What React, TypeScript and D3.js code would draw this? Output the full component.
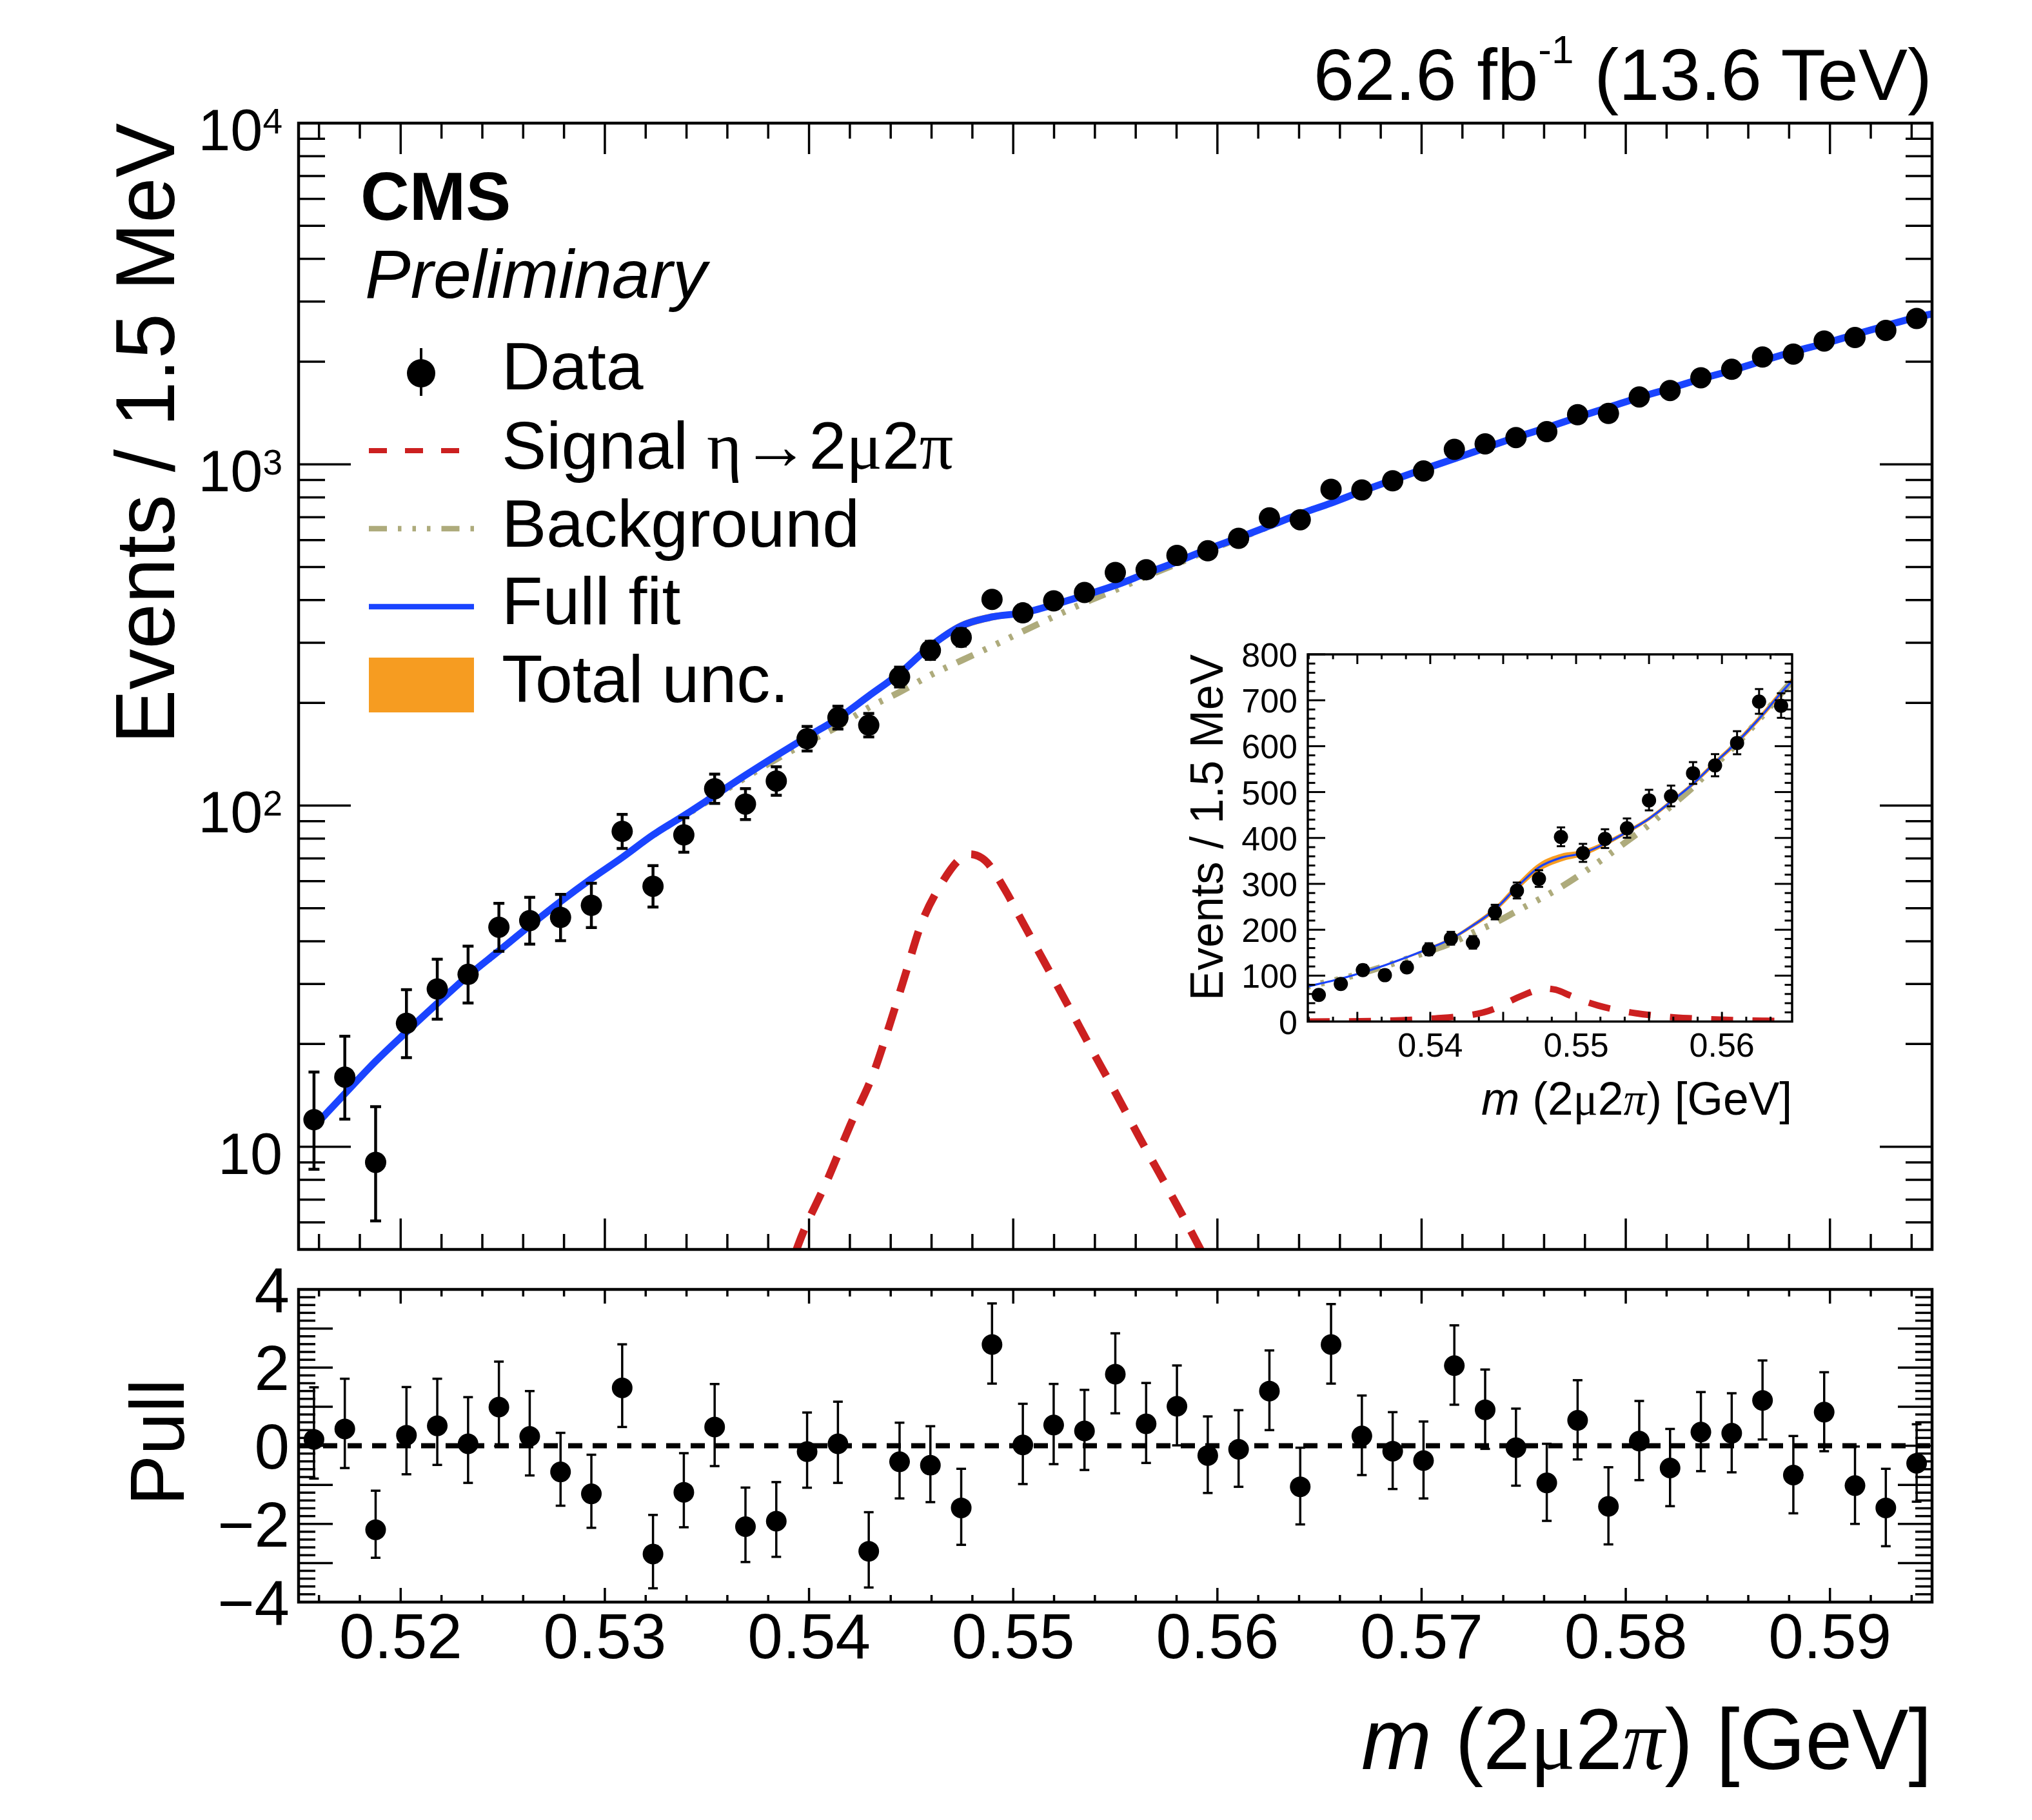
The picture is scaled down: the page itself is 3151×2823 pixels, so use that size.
import { useEffect, useRef } from "react";
import * as d3 from "d3";

// histogram binning
const massLo = 0.515;
const massHi = 0.595;
const nBins = 53;

// events per 1.5 MeV bin
const counts = [
  12, 16, 9, 23, 29, 32, 44, 46, 47, 51, 84, 58, 82, 112, 101, 118, 157, 181, 172, 238,
  285, 311, 402, 367, 398, 421, 482, 491, 541, 558, 607, 697, 688, 845, 841, 895, 956, 1106,
  1148, 1198, 1247, 1398, 1410, 1576, 1646, 1794, 1899, 2063, 2105, 2299, 2353, 2470, 2676,
];

// pull per bin
const pulls = [
  0.16, 0.43, -2.15, 0.27, 0.51, 0.05, 0.99, 0.24, -0.67, -1.23, 1.48, -2.77, -1.19, 0.48,
  -2.07, -1.93, -0.15, 0.05, -2.7, -0.41, -0.5, -1.59, 2.59, 0.02, 0.53, 0.38, 1.83, 0.56,
  1.01, -0.25, -0.09, 1.4, -1.05, 2.59, 0.25, -0.14, -0.38, 2.05, 0.92, -0.05, -0.95, 0.65,
  -1.55, 0.12, -0.57, 0.35, 0.32, 1.16, -0.75, 0.86, -1.02, -1.59, -0.45,
];

// full fit, background and total uncertainty at each bin centre
const fitVal = [
  11.45, 14.3, 17.8, 21.7, 26.3, 31.7, 37.5, 44.4, 52.3, 61,
  70.4, 82, 93.4, 107, 122.7, 140, 159, 180, 209.5, 244,
  293, 336, 357, 367, 387.5, 413, 442, 479, 518, 564,
  609, 660, 716, 770, 834, 899, 968, 1038, 1117, 1200,
  1281, 1374, 1468, 1571, 1669, 1779, 1885, 2010, 2139, 2258,
  2402, 2548, 2699,
];
const bkgVal = [
  11.45, 14.3, 17.8, 21.7, 26.3, 31.7, 37.5, 44.4, 52.3, 61,
  70.4, 81.9, 93, 106, 120.7, 136.7, 153, 170.5, 193.7, 215,
  241, 266, 293, 324, 357.5, 393, 428.4, 469.4, 510.9, 559,
  605.8, 658, 715, 769.4, 834, 899, 968, 1038, 1117, 1200,
  1281, 1374, 1468, 1571, 1669, 1779, 1885, 2010, 2139, 2258,
  2402, 2548, 2699,
];
const uncVal = [
  0.2, 0.25, 0.3, 0.35, 0.4, 0.5, 0.55, 0.65, 0.75, 0.9,
  1.0, 1.2, 1.4, 1.6, 1.9, 2.3, 2.9, 3.6, 4.5, 6,
  8, 9, 8.5, 6.5, 5, 4.5, 4.5, 4.5, 5, 5.5,
  6, 6.5, 7, 7.5, 8, 8.5, 9, 10, 10.5, 11,
  12, 13, 14, 15, 16, 17, 18, 19.5, 21, 22.5,
  24, 25.5, 27,
];
// value of the fit curves at the upper end of the range
const fitAtEnd = 2760;
const uncAtEnd = 28;

// signal shape
const sigMass = [
  0.5316, 0.534, 0.536, 0.538, 0.5396, 0.5409, 0.542, 0.5432, 0.544, 0.5448, 0.5454, 0.5464,
  0.5479, 0.5486, 0.5496, 0.5504, 0.5515, 0.5528, 0.5538, 0.5549, 0.5562, 0.5577, 0.5591,
  0.561, 0.563, 0.5649,
];
const sigVal = [
  0.1, 0.4, 1.2, 2.8, 5.4, 8.0, 11.5, 16.7, 23.3, 33.2, 43.4, 57.9, 72, 69.2, 56.6, 46.2,
  35.0, 25.2, 19.5, 14.8, 10.6, 7.3, 5.1, 3.0, 1.6, 0.8,
];

const xTickLabels = ["0.52", "0.53", "0.54", "0.55", "0.56", "0.57", "0.58", "0.59"];
const pullTickLabels = [4, 2, 0, -2, -4];
const insetXLabels = ["0.54", "0.55", "0.56"];
const insetYLabels = [0, 100, 200, 300, 400, 500, 600, 700, 800];

const W = 3151;
const H = 2823;
const SANS = "'Liberation Sans', Arial, Helvetica, sans-serif";
const SERIF = "'Liberation Serif', 'DejaVu Serif', serif";
const BLUE = "#1a44ff";
const RED = "#cc2020";
const KHAKI = "#aeab7c";
const ORANGE = "#f69c21";
const BKG_DASH = "28,17,5.5,17,5.5,17,5.5,17";

// Poisson 68% interval (Wilson-Hilferty form of the Garwood limits)
const poisLo = (n: number) => {
  if (n <= 0) return 0;
  const a = 1 - 1 / (9 * n) - 1 / (3 * Math.sqrt(n));
  return n * a * a * a;
};
const poisHi = (n: number) => {
  const m = n + 1;
  const a = 1 - 1 / (9 * m) + 1 / (3 * Math.sqrt(m));
  return m * a * a * a;
};

const binCenter = (i: number) => massLo + ((i + 0.5) * (massHi - massLo)) / nBins;
const binEdge = (i: number) => massLo + (i * (massHi - massLo)) / nBins;

type P = { m: number; v: number; u?: number };
type G = d3.Selection<SVGGElement, unknown, null, undefined>;

const CmsChart = () => {
  const ref = useRef<SVGSVGElement>(null);

  useEffect(() => {
    if (!ref.current) return;
    const svg = d3.select(ref.current);
    svg.selectAll("*").remove();

    const main = { l: 463, r: 2996, t: 191, b: 1938 };
    const pull = { l: 463, r: 2996, t: 2000, b: 2485 };
    const ins = { l: 2028, r: 2779, t: 1015, b: 1584.5 };

    const x = d3.scaleLinear().domain([massLo, massHi]).range([main.l, main.r]);
    const y = d3.scaleLog().domain([5, 1e4]).range([main.b, main.t]);
    const py = d3.scaleLinear().domain([-4, 4]).range([pull.b, pull.t]);
    const ix = d3.scaleLinear().domain([binEdge(11), binEdge(33)]).range([ins.l, ins.r]);
    const iy = d3.scaleLinear().domain([0, 800]).range([ins.b, ins.t]);

    const fitPts: P[] = fitVal.map((v, i) => ({ m: binCenter(i), v, u: uncVal[i] }));
    fitPts.push({ m: massHi, v: fitAtEnd, u: uncAtEnd });
    const bkgPts: P[] = bkgVal.map((v, i) => ({ m: binCenter(i), v }));
    bkgPts.push({ m: massHi, v: fitAtEnd });
    const sigPts: P[] = sigMass.map((m, i) => ({ m, v: sigVal[i] }));
    const data = counts.map((n, i) => ({
      m: binCenter(i),
      n,
      lo: poisLo(n),
      hi: poisHi(n),
      pull: pulls[i],
    }));

    svg.append("rect").attr("width", W).attr("height", H).attr("fill", "#fff");

    const defs = svg.append("defs");
    defs.append("clipPath").attr("id", "clipMain")
      .append("rect").attr("x", main.l).attr("y", main.t)
      .attr("width", main.r - main.l).attr("height", main.b - main.t);
    defs.append("clipPath").attr("id", "clipInset")
      .append("rect").attr("x", ins.l).attr("y", ins.t)
      .attr("width", ins.r - ins.l).attr("height", ins.b - ins.t);

    // band + background + signal + full fit
    const drawCurves = (
      g: G,
      sx: (v: number) => number,
      sy: (v: number) => number,
      fitW: number,
      bkgW: number,
      sigW: number,
      sigDash: string
    ) => {
      const band = d3.area<P>()
        .x(d => sx(d.m))
        .y0(d => sy(Math.max(d.v - (d.u ?? 0), 0.01)))
        .y1(d => sy(d.v + (d.u ?? 0)))
        .curve(d3.curveMonotoneX);
      const line = d3.line<P>().x(d => sx(d.m)).y(d => sy(d.v)).curve(d3.curveMonotoneX);
      g.append("path").attr("d", band(fitPts)).attr("fill", ORANGE);
      g.append("path").attr("d", line(bkgPts)).attr("fill", "none")
        .attr("stroke", KHAKI).attr("stroke-width", bkgW).attr("stroke-dasharray", BKG_DASH);
      g.append("path").attr("d", line(sigPts)).attr("fill", "none")
        .attr("stroke", RED).attr("stroke-width", sigW).attr("stroke-dasharray", sigDash);
      g.append("path").attr("d", line(fitPts)).attr("fill", "none")
        .attr("stroke", BLUE).attr("stroke-width", fitW);
    };

    const drawPoints = (
      g: G,
      pts: { px: number; y0: number; y1: number; yc: number }[],
      r: number,
      cap: number,
      sw: number
    ) => {
      const pg = g.append("g").attr("stroke", "#000").attr("stroke-width", sw);
      pts.forEach(p => {
        pg.append("line").attr("x1", p.px).attr("x2", p.px).attr("y1", p.y0).attr("y2", p.y1);
        pg.append("line").attr("x1", p.px - cap).attr("x2", p.px + cap).attr("y1", p.y0).attr("y2", p.y0);
        pg.append("line").attr("x1", p.px - cap).attr("x2", p.px + cap).attr("y1", p.y1).attr("y2", p.y1);
      });
      g.append("g").selectAll("circle").data(pts).enter().append("circle")
        .attr("cx", p => p.px).attr("cy", p => p.yc).attr("r", r).attr("fill", "#000");
    };

    // ---------- main pad ----------
    const gm = svg.append("g").attr("clip-path", "url(#clipMain)");
    drawCurves(gm, x, y, 11, 10, 12, "36,26");
    drawPoints(
      gm,
      data.map(d => ({ px: x(d.m), y0: y(Math.max(d.lo, 1)), y1: y(d.hi), yc: y(d.n) })),
      16.5, 8.5, 4.5
    );

    const axes = svg.append("g").attr("stroke", "#000").attr("fill", "none");
    axes.append("rect").attr("x", main.l).attr("y", main.t)
      .attr("width", main.r - main.l).attr("height", main.b - main.t).attr("stroke-width", 4.5);
    axes.append("rect").attr("x", pull.l).attr("y", pull.t)
      .attr("width", pull.r - pull.l).attr("height", pull.b - pull.t).attr("stroke-width", 4.5);

    const tick = (x1: number, y1: number, x2: number, y2: number, w = 3.5) =>
      axes.append("line").attr("x1", x1).attr("y1", y1).attr("x2", x2).attr("y2", y2).attr("stroke-width", w);

    // x ticks for main and pull pads
    d3.range(258, 298).forEach(k => {
      const px = x(k * 0.002);
      const major = k % 5 === 0;
      const lm = major ? 48 : 24;
      const lp = major ? 22 : 11;
      tick(px, main.b, px, main.b - lm);
      tick(px, main.t, px, main.t + lm);
      tick(px, pull.b, px, pull.b - lp);
      tick(px, pull.t, px, pull.t + lp);
    });

    // log y ticks
    const yTicks: { v: number; major: boolean }[] = [];
    [1, 10, 100, 1000].forEach(dec => {
      d3.range(1, 10).forEach(d => {
        const v = d * dec;
        if (v >= 5 && v <= 1e4) yTicks.push({ v, major: d === 1 });
      });
    });
    yTicks.push({ v: 1e4, major: true });
    yTicks.forEach(t => {
      const len = t.major ? 81 : 41;
      tick(main.l, y(t.v), main.l + len, y(t.v));
      tick(main.r, y(t.v), main.r - len, y(t.v));
    });

    // pull y ticks
    d3.range(-20, 21).forEach(k => {
      const v = k * 0.2;
      const len = k % 5 === 0 ? 53 : 26;
      tick(pull.l, py(v), pull.l + len, py(v));
      tick(pull.r, py(v), pull.r - len, py(v));
    });

    // ---------- pull pad ----------
    const gp = svg.append("g");
    gp.append("line").attr("x1", pull.l).attr("x2", pull.r).attr("y1", py(0)).attr("y2", py(0))
      .attr("stroke", "#000").attr("stroke-width", 8).attr("stroke-dasharray", "22,16");
    drawPoints(
      gp,
      data.map(d => {
        const eLo = d.n - d.lo;
        const eHi = d.hi - d.n;
        const up = d.pull >= 0 ? eHi / eLo : 1;
        const dn = d.pull >= 0 ? 1 : eLo / eHi;
        return { px: x(d.m), y0: py(d.pull - dn), y1: py(d.pull + up), yc: py(d.pull) };
      }),
      16, 7.5, 3.5
    );

    // ---------- text ----------
    const txt = svg.append("g").attr("font-family", SANS).attr("fill", "#000");

    xTickLabels.forEach(s => {
      txt.append("text").attr("x", x(+s)).attr("y", 2572).attr("text-anchor", "middle")
        .attr("font-size", 98).text(s);
    });
    pullTickLabels.forEach(v => {
      txt.append("text").attr("x", 449).attr("y", py(v) + 35).attr("text-anchor", "end")
        .attr("font-size", 98).text(v < 0 ? `\u2212${-v}` : String(v));
    });
    [1, 2, 3, 4].forEach(e => {
      const yy = y(Math.pow(10, e)) + 42;
      const t = txt.append("text").attr("x", 438).attr("y", yy).attr("text-anchor", "end")
        .attr("font-size", 90);
      t.append("tspan").text("10");
      if (e > 1) t.append("tspan").attr("font-size", 55).attr("dy", -26).text(String(e));
    });

    // axis titles
    txt.append("text").attr("transform", `translate(270,${main.t}) rotate(-90)`)
      .attr("text-anchor", "end").attr("font-size", 130)
      .attr("textLength", 963).attr("lengthAdjust", "spacingAndGlyphs")
      .text("Events / 1.5 MeV");
    txt.append("text").attr("transform", `translate(285,2237) rotate(-90)`)
      .attr("text-anchor", "middle").attr("font-size", 118).text("Pull");

    const xTitle = (sel: G, xr: number, yb: number, fs: number, len: number) => {
      const t = sel.append("text").attr("x", xr).attr("y", yb).attr("text-anchor", "end")
        .attr("font-size", fs).attr("textLength", len).attr("lengthAdjust", "spacingAndGlyphs");
      t.append("tspan").attr("font-style", "italic").text("m");
      t.append("tspan").text(" (2");
      t.append("tspan").attr("font-family", SERIF).text("\u03bc");
      t.append("tspan").text("2");
      t.append("tspan").attr("font-family", SERIF).attr("font-style", "italic").text("\u03c0");
      t.append("tspan").text(") [GeV]");
    };
    xTitle(txt, main.r, 2744, 134, 885);

    // lumi label
    const lumi = txt.append("text").attr("x", main.r).attr("y", 155).attr("text-anchor", "end")
      .attr("font-size", 114);
    lumi.append("tspan").text("62.6 fb");
    lumi.append("tspan").attr("font-size", 62).attr("dy", -57).text("-1");
    lumi.append("tspan").attr("font-size", 114).attr("dy", 57).text(" (13.6 TeV)");

    txt.append("text").attr("x", 559).attr("y", 341).attr("font-size", 105)
      .attr("font-weight", "bold").text("CMS");
    txt.append("text").attr("x", 566).attr("y", 462).attr("font-size", 106)
      .attr("font-style", "italic").text("Preliminary");

    // ---------- legend ----------
    const lg = svg.append("g");
    const lx = 778;
    const rows = [604, 727, 848, 968, 1089];
    lg.append("line").attr("x1", 653).attr("x2", 653).attr("y1", 540).attr("y2", 614)
      .attr("stroke", "#000").attr("stroke-width", 4);
    lg.append("circle").attr("cx", 653).attr("cy", 579).attr("r", 22).attr("fill", "#000");
    lg.append("line").attr("x1", 572).attr("x2", 712).attr("y1", 699).attr("y2", 699)
      .attr("stroke", RED).attr("stroke-width", 8).attr("stroke-dasharray", "28,28");
    lg.append("line").attr("x1", 572).attr("x2", 735).attr("y1", 820).attr("y2", 820)
      .attr("stroke", KHAKI).attr("stroke-width", 8.3).attr("stroke-dasharray", BKG_DASH);
    lg.append("line").attr("x1", 572).attr("x2", 735).attr("y1", 941).attr("y2", 941)
      .attr("stroke", BLUE).attr("stroke-width", 8.7);
    lg.append("rect").attr("x", 572).attr("y", 1020).attr("width", 163).attr("height", 85)
      .attr("fill", ORANGE);

    const lt = lg.append("g").attr("font-family", SANS).attr("font-size", 104);
    lt.append("text").attr("x", lx).attr("y", rows[0]).text("Data");
    const sigT = lt.append("text").attr("x", lx).attr("y", rows[1]);
    sigT.append("tspan").text("Signal ");
    sigT.append("tspan").attr("font-family", SERIF).text("\u03b7\u2192");
    sigT.append("tspan").text("2");
    sigT.append("tspan").attr("font-family", SERIF).text("\u03bc");
    sigT.append("tspan").text("2");
    sigT.append("tspan").attr("font-family", SERIF).text("\u03c0");
    lt.append("text").attr("x", lx).attr("y", rows[2]).text("Background");
    lt.append("text").attr("x", lx).attr("y", rows[3]).text("Full fit");
    lt.append("text").attr("x", lx).attr("y", rows[4]).text("Total unc.");

    // ---------- inset ----------
    const gi = svg.append("g");
    gi.append("rect").attr("x", ins.l).attr("y", ins.t)
      .attr("width", ins.r - ins.l).attr("height", ins.b - ins.t).attr("fill", "#fff");
    const gic = gi.append("g").attr("clip-path", "url(#clipInset)");
    drawCurves(gic, ix, iy, 3.2, 10, 10, "34,30");
    drawPoints(
      gic,
      data.slice(11, 33).map(d => ({ px: ix(d.m), y0: iy(d.lo), y1: iy(d.hi), yc: iy(d.n) })),
      11, 6.5, 3
    );
    const ia = gi.append("g").attr("stroke", "#000").attr("fill", "none");
    ia.append("rect").attr("x", ins.l).attr("y", ins.t)
      .attr("width", ins.r - ins.l).attr("height", ins.b - ins.t).attr("stroke-width", 3.5);
    const step = 0.005 / 3;
    d3.range(319, 339).forEach(j => {
      const px = ix(j * step);
      const len = j % 3 === 0 ? 15 : 7.5;
      ia.append("line").attr("x1", px).attr("x2", px).attr("y1", ins.b).attr("y2", ins.b - len).attr("stroke-width", 3);
      ia.append("line").attr("x1", px).attr("x2", px).attr("y1", ins.t).attr("y2", ins.t + len).attr("stroke-width", 3);
    });
    d3.range(0, 41).forEach(k => {
      const py2 = iy(k * 20);
      const len = k % 5 === 0 ? 27 : 11.5;
      ia.append("line").attr("x1", ins.l).attr("x2", ins.l + len).attr("y1", py2).attr("y2", py2).attr("stroke-width", 3);
      ia.append("line").attr("x1", ins.r).attr("x2", ins.r - len).attr("y1", py2).attr("y2", py2).attr("stroke-width", 3);
    });

    const it = gi.append("g").attr("font-family", SANS).attr("fill", "#000");
    insetYLabels.forEach(v => {
      it.append("text").attr("x", 2012).attr("y", iy(v) + 19).attr("text-anchor", "end")
        .attr("font-size", 52).text(String(v));
    });
    insetXLabels.forEach(s => {
      it.append("text").attr("x", ix(+s)).attr("y", 1639).attr("text-anchor", "middle")
        .attr("font-size", 52).text(s);
    });
    it.append("text").attr("transform", `translate(1896,${ins.t}) rotate(-90)`)
      .attr("text-anchor", "end").attr("font-size", 72)
      .attr("textLength", 537).attr("lengthAdjust", "spacingAndGlyphs")
      .text("Events / 1.5 MeV");
    xTitle(it, ins.r, 1729, 72, 482);
  }, []);

  return (
    <svg
      ref={ref}
      width={W}
      height={H}
      style={{ position: "absolute", left: 0, top: 0, display: "block" }}
    />
  );
};

export default function App() {
  return <CmsChart />;
}
